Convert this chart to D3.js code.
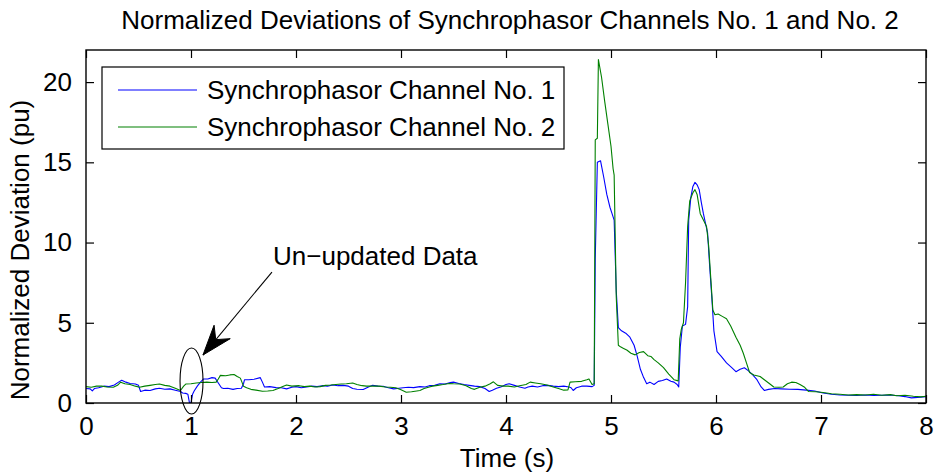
<!DOCTYPE html>
<html>
<head>
<meta charset="utf-8">
<script src="https://cdn.jsdelivr.net/npm/d3@7/dist/d3.min.js"></script>
<style>
  html, body { margin: 0; padding: 0; background: #fff; }
  svg { display: block; }
  text { font-family: "Liberation Sans", Arial, Helvetica, sans-serif; fill: #000; }
</style>
</head>
<body>
<svg id="chart" width="935" height="476"></svg>
<script>
// Normalized deviation of channel 1 (blue), [time s, deviation pu]
const channel1 = [
  [0,0.9],[0.04,0.88],[0.06,0.75],[0.08,0.9],[0.12,0.95],[0.17,1.05],[0.22,1.02],[0.27,1.12],
  [0.31,1.3],[0.34,1.42],[0.38,1.3],[0.42,1.22],[0.47,1.18],[0.5,1.1],[0.52,0.72],[0.56,0.8],
  [0.61,0.78],[0.66,0.88],[0.7,0.92],[0.75,0.86],[0.8,0.88],[0.85,0.8],[0.9,0.72],[0.92,0.62],
  [0.95,0.6],[0.97,0.55],[0.985,0.02],[1.0,0.02],[1.015,0.55],[1.03,0.75],[1.06,1.05],[1.09,1.3],
  [1.12,1.5],[1.16,1.5],[1.2,1.58],[1.23,1.55],[1.26,1.25],[1.29,0.95],[1.31,0.9],[1.35,0.92],
  [1.4,0.85],[1.44,0.9],[1.48,0.92],[1.5,1.2],[1.51,1.45],[1.55,1.45],[1.6,1.48],[1.66,1.58],
  [1.68,1.3],[1.7,1.0],[1.75,1.02],[1.81,0.96],[1.86,0.95],[1.91,0.88],[1.96,0.98],[2.0,1.02],
  [2.05,0.95],[2.1,1.0],[2.15,1.05],[2.2,1.02],[2.25,1.08],[2.3,1.05],[2.35,1.12],[2.4,1.08],
  [2.45,1.1],[2.5,1.05],[2.54,0.9],[2.58,0.86],[2.64,0.84],[2.69,1.0],[2.73,1.1],[2.78,1.05],
  [2.83,1.04],[2.88,0.95],[2.93,0.88],[2.98,0.92],[3.02,0.95],[3.07,0.98],[3.12,0.96],[3.18,1.02],
  [3.23,1.0],[3.27,1.08],[3.32,1.1],[3.37,1.2],[3.42,1.18],[3.47,1.28],[3.5,1.3],[3.55,1.22],
  [3.6,1.15],[3.65,1.1],[3.7,1.05],[3.75,1.02],[3.8,0.9],[3.84,0.72],[3.87,0.8],[3.91,0.92],
  [3.95,1.0],[4.0,1.15],[4.03,1.2],[4.08,1.1],[4.13,1.0],[4.18,0.92],[4.21,1.0],[4.25,1.05],
  [4.3,1.0],[4.35,1.08],[4.4,1.1],[4.45,1.05],[4.5,1.02],[4.55,1.05],[4.6,1.0],[4.62,0.95],
  [4.64,0.78],[4.67,0.95],[4.72,1.05],[4.77,1.05],[4.82,1.02],[4.84,1.1],[4.85,9.0],[4.87,15.0],
  [4.9,15.1],[4.93,14.1],[4.96,13.0],[4.99,12.2],[5.01,11.8],[5.03,11.4],[5.05,7.0],[5.07,4.7],
  [5.1,4.5],[5.14,4.35],[5.18,4.1],[5.22,3.6],[5.25,2.9],[5.28,2.1],[5.31,1.6],[5.34,1.2],
  [5.37,1.3],[5.41,1.15],[5.45,1.35],[5.49,1.4],[5.53,1.5],[5.57,1.35],[5.6,1.3],[5.63,1.15],
  [5.645,1.0],[5.66,3.5],[5.68,4.8],[5.71,4.9],[5.73,6.0],[5.74,11.4],[5.76,12.8],[5.78,13.5],
  [5.8,13.75],[5.82,13.6],[5.84,13.3],[5.86,12.5],[5.88,11.8],[5.9,11.2],[5.92,10.6],[5.94,8.5],
  [5.96,6.6],[5.98,4.5],[6.01,3.2],[6.05,2.9],[6.1,2.5],[6.15,2.2],[6.19,1.95],[6.23,2.1],
  [6.27,2.2],[6.31,2.0],[6.35,1.75],[6.39,1.45],[6.43,1.0],[6.46,0.78],[6.5,0.85],[6.56,0.9],
  [6.62,0.88],[6.7,0.86],[6.78,0.85],[6.86,0.8],[6.94,0.75],[7.02,0.62],[7.1,0.55],[7.18,0.5],
  [7.26,0.48],[7.34,0.47],[7.42,0.5],[7.5,0.47],[7.58,0.48],[7.66,0.5],[7.74,0.45],[7.8,0.4],
  [7.86,0.32],[7.92,0.35],[8.0,0.4]
];

// Normalized deviation of channel 2 (green), [time s, deviation pu]
const channel2 = [
  [0,1.02],[0.05,0.98],[0.1,1.05],[0.15,1.05],[0.2,1.0],[0.26,0.98],[0.3,1.1],[0.33,1.3],
  [0.37,1.2],[0.42,1.15],[0.47,1.05],[0.51,0.98],[0.56,1.05],[0.61,1.1],[0.66,1.15],[0.7,1.18],
  [0.75,1.1],[0.8,1.05],[0.85,0.92],[0.9,0.78],[0.93,1.05],[0.95,1.18],[1.0,1.2],[1.05,1.25],
  [1.1,1.28],[1.15,1.3],[1.2,1.28],[1.24,1.3],[1.26,1.5],[1.28,1.72],[1.33,1.7],[1.37,1.75],
  [1.41,1.78],[1.44,1.65],[1.47,1.55],[1.5,1.05],[1.53,0.95],[1.57,0.85],[1.62,0.8],[1.68,0.73],
  [1.73,0.75],[1.78,0.78],[1.83,0.9],[1.88,1.05],[1.91,1.12],[1.96,1.05],[2.03,1.08],[2.08,1.02],
  [2.13,1.05],[2.18,1.0],[2.23,1.02],[2.28,1.1],[2.33,1.12],[2.38,1.15],[2.43,1.18],[2.48,1.2],
  [2.54,1.25],[2.58,1.15],[2.63,1.08],[2.67,1.05],[2.72,1.05],[2.79,1.05],[2.85,1.0],[2.9,0.98],
  [2.95,0.95],[3.0,0.82],[3.05,0.67],[3.1,0.7],[3.15,0.75],[3.18,0.78],[3.22,0.9],[3.27,1.0],
  [3.3,1.05],[3.35,1.1],[3.4,1.15],[3.46,1.22],[3.5,1.2],[3.56,1.18],[3.62,1.08],[3.67,0.9],
  [3.7,0.85],[3.75,0.98],[3.8,1.05],[3.85,1.2],[3.88,1.32],[3.92,1.1],[3.97,1.05],[4.02,1.05],
  [4.08,1.0],[4.13,1.08],[4.19,1.15],[4.23,1.3],[4.28,1.25],[4.33,1.2],[4.39,1.12],[4.45,1.0],
  [4.5,0.9],[4.55,0.8],[4.59,0.82],[4.61,1.3],[4.66,1.32],[4.72,1.35],[4.77,1.45],[4.79,1.5],
  [4.82,1.15],[4.84,1.2],[4.85,16.4],[4.87,16.5],[4.88,21.4],[4.91,20.3],[4.94,18.8],[4.97,17.4],
  [5.0,16.0],[5.02,14.6],[5.03,14.2],[5.05,6.6],[5.07,3.6],[5.09,3.5],[5.12,3.4],[5.15,3.3],
  [5.19,3.1],[5.23,3.0],[5.27,3.15],[5.31,3.2],[5.35,2.95],[5.38,2.9],[5.41,2.7],[5.45,2.5],
  [5.5,2.2],[5.55,1.8],[5.6,1.45],[5.64,1.38],[5.655,4.0],[5.67,4.6],[5.69,5.0],[5.71,7.5],
  [5.73,11.0],[5.75,12.6],[5.78,13.1],[5.8,13.3],[5.82,13.0],[5.85,11.8],[5.88,11.4],[5.91,11.0],
  [5.93,9.8],[5.95,7.8],[5.97,5.8],[5.99,5.5],[6.02,5.55],[6.06,5.4],[6.1,5.25],[6.14,4.8],
  [6.19,4.1],[6.23,3.6],[6.26,3.1],[6.29,2.5],[6.32,1.9],[6.36,1.75],[6.42,1.65],[6.47,1.4],
  [6.52,1.15],[6.55,1.0],[6.6,0.98],[6.64,1.0],[6.68,1.2],[6.72,1.3],[6.76,1.28],[6.8,1.15],
  [6.84,1.0],[6.88,0.72],[6.95,0.7],[7.02,0.65],[7.1,0.58],[7.18,0.55],[7.26,0.5],[7.34,0.52],
  [7.42,0.5],[7.5,0.55],[7.58,0.48],[7.66,0.52],[7.72,0.45],[7.8,0.48],[7.88,0.42],[7.95,0.38],
  [8.0,0.42]
];

const seriesNames = ["Synchrophasor Channel No. 1", "Synchrophasor Channel No. 2"];
const seriesColors = ["#0000ff", "#008000"];
const xTicks = [0, 1, 2, 3, 4, 5, 6, 7, 8];
const yTicks = [0, 5, 10, 15, 20];
const chartTitle = "Normalized Deviations of Synchrophasor Channels No. 1 and No. 2";
const xLabel = "Time (s)";
const yLabel = "Normalized Deviation (pu)";
const noteText = "Un\u2212updated Data";

const FONT = 26;
const plot = { left: 86, top: 50, right: 926, bottom: 403 };

const svg = d3.select("#chart");
const x = d3.scaleLinear().domain([0, 8]).range([plot.left, plot.right]);
const y = d3.scaleLinear().domain([0, 22]).range([plot.bottom, plot.top]);

// data lines, clipped to the axes box
svg.append("clipPath").attr("id", "plotClip")
  .append("rect").attr("x", plot.left).attr("y", plot.top)
  .attr("width", plot.right - plot.left).attr("height", plot.bottom - plot.top);

const line = d3.line().x(d => x(d[0])).y(d => y(d[1]));
const lines = svg.append("g").attr("clip-path", "url(#plotClip)");
[channel1, channel2].forEach((s, i) => {
  lines.append("path").datum(s)
    .attr("d", line)
    .attr("fill", "none")
    .attr("stroke", seriesColors[i])
    .attr("stroke-width", 1.1)
    .attr("stroke-linejoin", "round");
});

// axes: inward ticks on all four sides
const tickLen = 8;
const axisStyle = g => {
  g.select(".domain").remove();
  g.selectAll("line").attr("stroke", "#000").attr("stroke-width", 1.2);
  g.selectAll("text").attr("font-size", FONT).attr("fill", "#000")
    .attr("font-family", "'Liberation Sans', Arial, sans-serif");
};

svg.append("g").attr("transform", `translate(0,${plot.bottom})`)
  .call(d3.axisBottom(x).tickValues(xTicks).tickFormat(d3.format("d"))
    .tickSizeInner(-tickLen).tickSizeOuter(0).tickPadding(14))
  .call(axisStyle);
svg.append("g").attr("transform", `translate(0,${plot.top})`)
  .call(d3.axisTop(x).tickValues(xTicks).tickFormat("")
    .tickSizeInner(-tickLen).tickSizeOuter(0))
  .call(axisStyle);
svg.append("g").attr("transform", `translate(${plot.left},0)`)
  .call(d3.axisLeft(y).tickValues(yTicks).tickFormat(d3.format("d"))
    .tickSizeInner(-tickLen).tickSizeOuter(0).tickPadding(14))
  .call(axisStyle);
svg.append("g").attr("transform", `translate(${plot.right},0)`)
  .call(d3.axisRight(y).tickValues(yTicks).tickFormat("")
    .tickSizeInner(-tickLen).tickSizeOuter(0))
  .call(axisStyle);

svg.append("rect")
  .attr("x", plot.left).attr("y", plot.top)
  .attr("width", plot.right - plot.left).attr("height", plot.bottom - plot.top)
  .attr("fill", "none").attr("stroke", "#000").attr("stroke-width", 1.4);

// title and axis labels
svg.append("text").attr("x", (plot.left + plot.right) / 2 + 4).attr("y", 29)
  .attr("text-anchor", "middle").attr("font-size", FONT).text(chartTitle);
svg.append("text").attr("x", (plot.left + plot.right) / 2 + 1).attr("y", 467)
  .attr("text-anchor", "middle").attr("font-size", FONT).text(xLabel);
svg.append("text")
  .attr("transform", `translate(29,250) rotate(-90)`)
  .attr("text-anchor", "middle").attr("font-size", FONT).text(yLabel);

// legend
const legend = svg.append("g");
legend.append("rect").attr("x", 102).attr("y", 67).attr("width", 462).attr("height", 82)
  .attr("fill", "#fff").attr("stroke", "#000").attr("stroke-width", 1.2);
seriesNames.forEach((name, i) => {
  const ly = 90 + i * 37;
  legend.append("line").attr("x1", 118).attr("x2", 197).attr("y1", ly).attr("y2", ly)
    .attr("stroke", seriesColors[i]).attr("stroke-width", 1.1);
  legend.append("text").attr("x", 207).attr("y", ly + 9)
    .attr("font-size", FONT).text(name);
});

// annotation: ellipse around the dropout, arrow and label
const note = svg.append("g");
note.append("ellipse")
  .attr("cx", x(1.005)).attr("cy", y(1.37)).attr("rx", 11.5).attr("ry", 33)
  .attr("fill", "none").attr("stroke", "#000").attr("stroke-width", 1.1);

const start = [x(1.771), y(8.16)];
const tip = [x(1.114), y(2.99)];
note.append("line")
  .attr("x1", start[0]).attr("y1", start[1]).attr("x2", tip[0]).attr("y2", tip[1])
  .attr("stroke", "#000").attr("stroke-width", 1.1);
const dx = tip[0] - start[0], dy = tip[1] - start[1];
const len = Math.hypot(dx, dy);
const ux = dx / len, uy = dy / len, nx = -uy, ny = ux;
const headLen = 30, headHalf = 10.5, notch = 20;
const back = [tip[0] - headLen * ux, tip[1] - headLen * uy];
const head = [
  tip,
  [back[0] + headHalf * nx, back[1] + headHalf * ny],
  [tip[0] - notch * ux, tip[1] - notch * uy],
  [back[0] - headHalf * nx, back[1] - headHalf * ny]
];
note.append("path").attr("d", d3.line()(head) + "Z").attr("fill", "#000").attr("stroke", "#000");

note.append("text").attr("x", 273).attr("y", 265).attr("font-size", FONT).text(noteText);
</script>
</body>
</html>
